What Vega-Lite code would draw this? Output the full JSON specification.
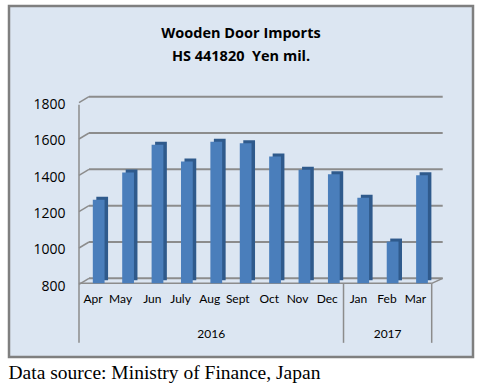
{
  "$schema": "https://vega.github.io/schema/vega-lite/v6.json",
  "width": 464,
  "height": 351,
  "autosize": {"type": "none"},
  "padding": {"left": 9, "top": 6, "right": 14, "bottom": 30},
  "background": "white",
  "config": {
    "view": {"fill": "#dce6f2", "stroke": "#7f7f7f", "strokeWidth": 2.5},
    "font": "Lato"
  },
  "title": {
    "text": ["Wooden Door Imports", "HS 441820\u00a0 Yen mil."],
    "font": "Open Sans",
    "fontSize": 14.5,
    "fontWeight": "bold",
    "color": "#000000",
    "lineHeight": 23,
    "offset": -58,
    "anchor": "middle",
    "baseline": "top"
  },
  "datasets": {
    "imports": [
      {"month": "Apr", "year": "2016", "value": 1260},
      {"month": "May", "year": "2016", "value": 1410},
      {"month": "Jun", "year": "2016", "value": 1563},
      {"month": "July", "year": "2016", "value": 1471},
      {"month": "Aug", "year": "2016", "value": 1579},
      {"month": "Sept", "year": "2016", "value": 1571},
      {"month": "Oct", "year": "2016", "value": 1498},
      {"month": "Nov", "year": "2016", "value": 1425},
      {"month": "Dec", "year": "2016", "value": 1401},
      {"month": "Jan", "year": "2017", "value": 1271},
      {"month": "Feb", "year": "2017", "value": 1030},
      {"month": "Mar", "year": "2017", "value": 1395}
    ],
    "grid": [{"g": 800}, {"g": 1000}, {"g": 1200}, {"g": 1400}, {"g": 1600}, {"g": 1800}],
    "years": [{"month": "Aug", "year": "2016"}, {"month": "Feb", "year": "2017"}],
    "one": [{}]
  },
  "layer": [
    {
      "data": {"name": "grid"},
      "mark": {"type": "rule", "color": "#8c8c8c", "strokeWidth": 2, "xOffset": -4.7, "x2Offset": 25.7},
      "encoding": {
        "x": {"datum": "Apr", "type": "nominal"},
        "x2": {"datum": "Mar"},
        "y": {"field": "g", "type": "quantitative", "title": null}
      }
    },
    {
      "data": {"name": "grid"},
      "mark": {"type": "rule", "color": "#8c8c8c", "strokeWidth": 1.5, "xOffset": -14.7, "x2Offset": -4.7, "yOffset": 6, "y2Offset": 0},
      "encoding": {
        "x": {"datum": "Apr", "type": "nominal"},
        "x2": {"datum": "Apr"},
        "y": {"field": "g", "type": "quantitative", "title": null},
        "y2": {"field": "g"}
      }
    },
    {
      "data": {"name": "one"},
      "mark": {"type": "rule", "color": "#8c8c8c", "strokeWidth": 1.5, "xOffset": -14.7, "yOffset": 8},
      "encoding": {
        "x": {"datum": "Apr", "type": "nominal"},
        "y": {"datum": 1800, "type": "quantitative"},
        "y2": {"datum": 445}
      }
    },
    {
      "data": {"name": "one"},
      "mark": {"type": "rule", "color": "#8c8c8c", "strokeWidth": 1.5, "xOffset": -14.7, "yOffset": 5},
      "encoding": {
        "x": {"datum": "Jan", "type": "nominal"},
        "y": {"datum": 800, "type": "quantitative"},
        "y2": {"datum": 445}
      }
    },
    {
      "data": {"name": "one"},
      "mark": {"type": "rule", "color": "#8c8c8c", "strokeWidth": 1.5, "xOffset": 14.7, "yOffset": 5},
      "encoding": {
        "x": {"datum": "Mar", "type": "nominal"},
        "y": {"datum": 800, "type": "quantitative"},
        "y2": {"datum": 445}
      }
    },
    {
      "data": {"name": "one"},
      "mark": {"type": "rule", "color": "#8c8c8c", "strokeWidth": 1.5, "xOffset": -14.7, "x2Offset": 14.7, "yOffset": 5},
      "encoding": {
        "x": {"datum": "Apr", "type": "nominal"},
        "x2": {"datum": "Mar"},
        "y": {"datum": 800, "type": "quantitative"}
      }
    },
    {
      "data": {"name": "one"},
      "mark": {"type": "rule", "color": "#8c8c8c", "strokeWidth": 1.5, "xOffset": 14.7, "x2Offset": 25.7, "yOffset": 5, "y2Offset": 0},
      "encoding": {
        "x": {"datum": "Mar", "type": "nominal"},
        "x2": {"datum": "Mar"},
        "y": {"datum": 800, "type": "quantitative"},
        "y2": {"datum": 800}
      }
    },
    {
      "data": {"name": "imports"},
      "mark": {"type": "bar", "width": {"band": 0.4}, "color": "#2f5a8c", "xOffset": 8.5, "yOffset": 2, "y2Offset": 2},
      "encoding": {
        "x": {"field": "month", "type": "nominal", "title": "Data source: Ministry of Finance, Japan"},
        "y": {"field": "value", "type": "quantitative", "title": null},
        "y2": {"datum": 800}
      }
    },
    {
      "data": {"name": "imports"},
      "mark": {"type": "bar", "width": {"band": 0.4}, "color": "#4a7ebb", "xOffset": 5, "yOffset": 5, "y2Offset": 5},
      "encoding": {
        "x": {
          "field": "month",
          "type": "nominal",
          "title": "Data source: Ministry of Finance, Japan",
          "scale": {
            "domain": ["Apr", "May", "Jun", "July", "Aug", "Sept", "Oct", "Nov", "Dec", "Jan", "Feb", "Mar"],
            "range": [70, 422.7],
            "paddingInner": 0,
            "paddingOuter": 0
          },
          "axis": {
            "orient": "bottom",
            "offset": -59,
            "labelAngle": 0,
            "labelPadding": 0,
            "labelOffset": 9,
            "ticks": false,
            "domain": false,
            "grid": false,
            "labelFont": "Lato",
            "labelFontSize": 12,
            "labelColor": "#000000",
            "titleFont": "Liberation Serif",
            "titleFontSize": 19.5,
            "titleFontWeight": "normal",
            "titleColor": "#000000",
            "titleX": -1,
            "titleY": 80,
            "titleAlign": "left",
            "titleAnchor": "start",
            "titleBaseline": "alphabetic"
          }
        },
        "y": {
          "field": "value",
          "type": "quantitative",
          "title": null,
          "scale": {"domain": [367, 2299], "nice": false, "zero": false},
          "axis": {
            "orient": "left",
            "offset": -56,
            "values": [800, 1000, 1200, 1400, 1600, 1800],
            "format": "d",
            "labelPadding": 0,
            "labelOffset": 8,
            "ticks": false,
            "domain": false,
            "grid": false,
            "labelFont": "Open Sans",
            "labelFontSize": 14,
            "labelColor": "#000000"
          }
        },
        "y2": {"datum": 800}
      }
    },
    {
      "data": {"name": "years"},
      "mark": {"type": "text", "font": "Lato", "fontSize": 12, "color": "#000000", "baseline": "middle"},
      "encoding": {
        "x": {"field": "month", "type": "nominal", "title": "Data source: Ministry of Finance, Japan"},
        "y": {"datum": 493, "type": "quantitative"},
        "text": {"field": "year"}
      }
    }
  ]
}
